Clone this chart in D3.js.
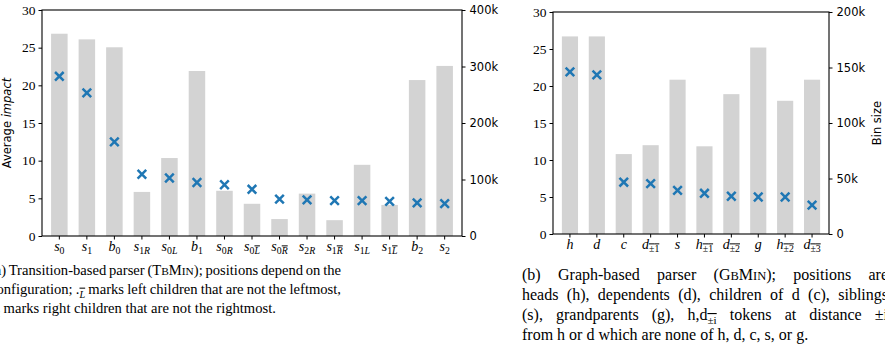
<!DOCTYPE html>
<html><head><meta charset="utf-8">
<script src="https://cdn.jsdelivr.net/npm/d3@7"></script>
<style>
body{margin:0;background:#fff}
svg{display:block}
</style></head><body>
<svg width="885" height="346"></svg>
<script>
// (a) transition-based parser; [X] = overlined part of the subscript
let catsA = ["s_0","s_1","b_0","s_1R","s_0L","b_1","s_0R","s_0[L]","s_0[R]","s_2R","s_1[R]","s_1L","s_1[L]","b_2","s_2"];
let impactA = [21.2,19.0,12.5,8.2,7.7,7.1,6.8,6.2,4.9,4.8,4.7,4.7,4.6,4.4,4.3];
let binA = [358,348,334,78,138,292,80,57,30,75,28,126,55,276,301]; // in thousands
let binTicksA = [0,100,200,300,400];

// (b) graph-based parser
let catsB = ["h","d","c","d_[±1]","s","h_[±1]","d_[±2]","g","h_[±2]","d_[±3]"];
let impactB = [21.9,21.5,7.0,6.8,5.9,5.5,5.1,5.0,5.0,3.9];
let binB = [178,178,72,80,139,79,126,168,120,139];
let binTicksB = [0,50,100,150,200];

let impactTicks = [0,5,10,15,20,25,30];

let svg = d3.select("svg");
let serif = "'Liberation Serif', serif";
let sans = "'DejaVu Sans', sans-serif";

// write a label like "s_0[L]" as italic base + subscript, overlining [..]
function mathLabel(text, str, size) {
  text.text(null);
  let parts = str.split("_");
  text.append("tspan").attr("font-style", "italic").attr("font-size", size).text(parts[0]);
  if (parts.length < 2) return;
  let sub = parts[1], over = false, first = true;
  for (let ch of sub) {
    if (ch == "[") { over = true; continue; }
    if (ch == "]") { over = false; continue; }
    let t = text.append("tspan")
      .attr("font-size", size * 0.7)
      .attr("font-style", /[A-Za-z]/.test(ch) ? "italic" : "normal")
      .style("text-decoration", over ? "overline" : "none")
      .text(ch);
    if (first) { t.attr("dy", size * 0.22); first = false; }
  }
}

function drawPanel(o) {
  let g = svg.append("g");

  let x = d3.scaleBand()
    .domain(o.cats)
    .range([o.x0, o.x1])
    .paddingInner(0.4)
    .paddingOuter(0.33);

  let yImpact = d3.scaleLinear().domain([0, 30]).range([o.y1, o.y0]);
  let yBin = d3.scaleLinear().domain([0, d3.max(o.binTicks)]).range([o.y1, o.y0]);

  // Bars: bin size
  g.selectAll("rect.bar")
    .data(o.bins)
    .enter()
    .append("rect")
    .attr("class", "bar")
    .attr("x", (d, i) => x(o.cats[i]))
    .attr("width", x.bandwidth())
    .attr("y", d => yBin(d))
    .attr("height", d => yBin(0) - yBin(d))
    .attr("fill", "#d3d3d3");

  // Markers: average impact
  let r = 4.3;
  g.selectAll("path.mark")
    .data(o.impact)
    .enter()
    .append("path")
    .attr("class", "mark")
    .attr("d", (d, i) => {
      let cx = x(o.cats[i]) + x.bandwidth() / 2, cy = yImpact(d);
      return `M${cx - r},${cy - r}L${cx + r},${cy + r}M${cx - r},${cy + r}L${cx + r},${cy - r}`;
    })
    .attr("stroke", "#1f77b4")
    .attr("stroke-width", 2.5)
    .attr("fill", "none");

  // Frame
  g.append("rect")
    .attr("x", o.x0).attr("y", o.y0)
    .attr("width", o.x1 - o.x0).attr("height", o.y1 - o.y0)
    .attr("fill", "none").attr("stroke", "#000").attr("stroke-width", 1.1);

  // Left axis
  let left = g.append("g")
    .attr("transform", `translate(${o.x0},0)`)
    .call(d3.axisLeft(yImpact).tickValues(impactTicks).tickSize(3.5).tickPadding(3));
  left.select(".domain").remove();
  left.selectAll("text").attr("font-family", serif).attr("font-size", 13.5).attr("fill", "#000");

  // Right axis
  let right = g.append("g")
    .attr("transform", `translate(${o.x1},0)`)
    .call(d3.axisRight(yBin).tickValues(o.binTicks).tickSize(3.5).tickPadding(4)
      .tickFormat(d => d == 0 ? "0" : d + "k"));
  right.select(".domain").remove();
  right.selectAll("text").attr("font-family", sans).attr("font-size", 11.5).attr("fill", "#000");

  // Bottom axis
  let bottom = g.append("g")
    .attr("transform", `translate(0,${o.y1})`)
    .call(d3.axisBottom(x).tickSize(3.5).tickPadding(4));
  bottom.select(".domain").remove();
  bottom.selectAll("text")
    .attr("font-family", serif)
    .attr("dy", "0.78em")
    .each(function (d) { mathLabel(d3.select(this), d, 14); });

  g.selectAll(".tick line").attr("stroke", "#000");
  return g;
}

drawPanel({cats: catsA, impact: impactA, bins: binA, binTicks: binTicksA,
  x0: 42, x1: 462, y0: 10, y1: 236});
drawPanel({cats: catsB, impact: impactB, bins: binB, binTicks: binTicksB,
  x0: 553, x1: 829, y0: 12, y1: 234});

// Axis titles
let yl = svg.append("text")
  .attr("transform", "translate(11,123) rotate(-90)")
  .attr("text-anchor", "middle")
  .attr("font-family", sans).attr("font-size", 11.5);
yl.append("tspan").text("Average ");
yl.append("tspan").attr("font-style", "italic").text("impact");

svg.append("text")
  .attr("transform", "translate(881,123) rotate(-90)")
  .attr("text-anchor", "middle")
  .attr("font-family", sans).attr("font-size", 11.5)
  .text("Bin size");

// Captions (justified lines get extra word spacing)
function capLine(parts, x, y, size, width) {
  let t = svg.append("text")
    .attr("x", x).attr("y", y)
    .attr("font-family", serif).attr("font-size", size);
  parts.forEach(p => {
    let s = t.append("tspan").text(p.t);
    if (p.sc) s.attr("font-size", size * 0.78);
    if (p.sub) s.attr("font-size", size * 0.7).attr("dy", size * 0.25);
    if (p.back) s.attr("dy", -size * 0.25);
    if (p.it) s.attr("font-style", "italic");
    if (p.over) s.style("text-decoration", "overline");
  });
  if (width) {
    let natural = t.node().getComputedTextLength();
    let spaces = parts.map(p => p.t).join("").split(" ").length - 1;
    t.style("word-spacing", ((width - natural) / spaces) + "px");
  }
  return t;
}

let capLeftX = -10, capLeftW = 351, capLeftSize = 14.6;
capLine([{t: "(a) Transition-based parser (T"}, {t: "B", sc: 1}, {t: "M"}, {t: "IN", sc: 1},
  {t: "); positions depend on the"}], capLeftX, 275, capLeftSize, capLeftW);
capLine([{t: "configuration; ."}, {t: "L", sub: 1, it: 1, over: 1}, {t: " marks left children that are not the leftmost,", back: 1}],
  capLeftX, 294, capLeftSize, capLeftW);
capLine([{t: "."}, {t: "R", sub: 1, it: 1, over: 1}, {t: " marks right children that are not the rightmost.", back: 1}],
  capLeftX, 313, capLeftSize);

let capRightX = 522, capRightW = 366, capRightSize = 16;
capLine([{t: "(b) Graph-based parser (G"}, {t: "B", sc: 1}, {t: "M"}, {t: "IN", sc: 1},
  {t: "); positions are"}], capRightX, 280, capRightSize, capRightW);
capLine([{t: "heads (h), dependents (d), children of d (c), siblings"}], capRightX, 300, capRightSize, capRightW);
capLine([{t: "(s), grandparents (g), h,d"}, {t: "±i", sub: 1, over: 1},
  {t: " tokens at distance ±i", back: 1}], capRightX, 320, capRightSize, capRightW);
capLine([{t: "from h or d which are none of h, d, c, s, or g."}], capRightX, 340, capRightSize);
</script>
</body></html>
